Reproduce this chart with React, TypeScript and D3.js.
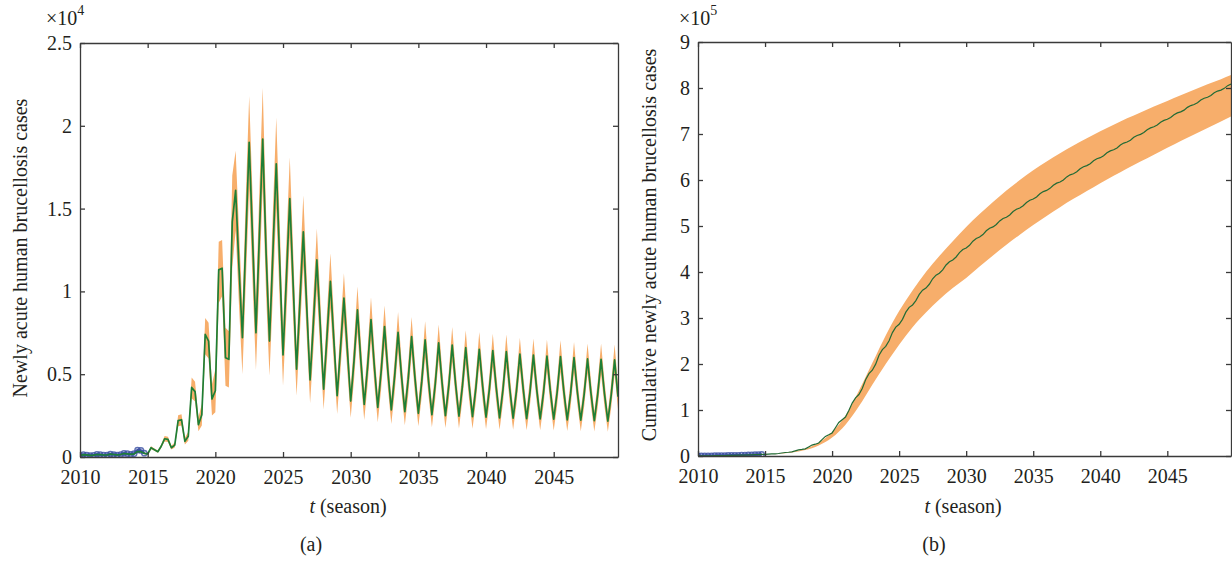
import React, { useEffect, useRef } from 'react';
import * as d3 from 'd3';

// time runs in seasons: 2010.00, 2010.25, ... 2049.75 (four per row)
const startYear = 2010;
const endYear = 2049.75;

// model mean of newly acute cases per season
const meanCases = [
  90, 140, 130, 100, 110, 150, 140, 120, 120, 170, 150, 130, 150, 210, 190, 160, 190, 330, 320, 220,
  180, 560, 440, 320, 650, 1100, 1060, 560, 720, 2200, 2250, 950, 1250, 4200, 3950, 1950,
  2550, 7400, 7000, 3500, 4000, 11300, 11400, 6000, 5900, 14200, 16100, 11400,
  7200, 13100, 19000, 13200, 7500, 13300, 19200, 12300, 7000, 12300, 17700, 11900,
  6160, 10800, 15600, 10400, 5300, 9400, 13600, 9100, 4650, 8200, 11900, 8000,
  4100, 7300, 10600, 7150, 3700, 6600, 9600, 6500, 3380, 5850, 8880, 5830,
  3180, 5450, 8300, 5450, 3000, 5150, 7870, 5160, 2840, 4900, 7530, 4940,
  2740, 4700, 7270, 4760, 2640, 4550, 7070, 4610, 2550, 4420, 6900, 4500,
  2500, 4320, 6760, 4410, 2460, 4230, 6600, 4330, 2440, 4170, 6500, 4270,
  2400, 4110, 6420, 4210, 2360, 4060, 6360, 4150, 2340, 3990, 6220, 4080,
  2320, 3950, 6160, 4040, 2300, 3910, 6100, 3990, 2280, 3880, 6060, 3950,
  2240, 3840, 6000, 3910, 2220, 3800, 5920, 3870, 2200, 3780, 5900, 3830,
  2170, 3750, 5860, 3640,
];

// lower edge of the uncertainty band
const lowerCases = [
  60, 100, 100, 70, 80, 110, 110, 90, 85, 125, 115, 95, 105, 155, 145, 120, 135, 250, 250, 165,
  140, 470, 370, 260, 540, 930, 900, 450, 580, 1850, 1900, 760, 980, 3550, 3350, 1550,
  1900, 6200, 5950, 2500, 2700, 9300, 9700, 4300, 4200, 11400, 13700, 9100,
  5000, 10500, 16150, 10560, 5250, 10600, 16300, 9800, 4900, 9800, 15000, 9500,
  4300, 8600, 13300, 8300, 3700, 7500, 11550, 7300, 3250, 6550, 10100, 6400,
  2870, 5850, 9000, 5700, 2600, 5300, 8150, 5200, 2370, 4700, 7550, 4650,
  2230, 4350, 7050, 4350, 2100, 4100, 6700, 4150, 2000, 3900, 6400, 3950,
  1920, 3750, 6200, 3800, 1850, 3650, 6000, 3700, 1790, 3550, 5850, 3600,
  1750, 3450, 5750, 3550, 1720, 3400, 5600, 3450, 1710, 3350, 5530, 3400,
  1680, 3300, 5450, 3350, 1650, 3250, 5400, 3300, 1640, 3200, 5300, 3250,
  1620, 3150, 5250, 3250, 1610, 3150, 5200, 3200, 1600, 3100, 5150, 3150,
  1570, 3050, 5100, 3150, 1550, 3050, 5050, 3100, 1540, 3000, 5000, 3050,
  1520, 3000, 5000, 2900,
];

// upper edge of the uncertainty band
const upperCases = [
  120, 180, 160, 130, 140, 190, 170, 150, 155, 215, 185, 165, 190, 265, 235, 200, 240, 410, 390, 280,
  230, 650, 520, 390, 760, 1270, 1220, 680, 880, 2520, 2580, 1160, 1520, 4800, 4550, 2400,
  3200, 8400, 8100, 4400, 5300, 13000, 13100, 7800, 7600, 17000, 18500, 13700,
  9000, 15700, 21800, 15800, 9400, 16000, 22300, 14800, 8750, 14800, 20500, 14300,
  7700, 13000, 18100, 12500, 6600, 11300, 15800, 10900, 5800, 9850, 13800, 9600,
  5100, 8750, 12300, 8600, 4600, 7900, 11100, 7800, 4200, 7000, 10300, 7000,
  3970, 6550, 9650, 6550, 3750, 6200, 9150, 6200, 3550, 5900, 8750, 5900,
  3420, 5650, 8450, 5700, 3300, 5450, 8200, 5550, 3200, 5300, 8000, 5400,
  3120, 5200, 7850, 5300, 3080, 5100, 7650, 5200, 3050, 5000, 7550, 5100,
  3000, 4950, 7450, 5050, 2950, 4850, 7400, 5000, 2930, 4800, 7200, 4900,
  2900, 4750, 7150, 4850, 2880, 4700, 7100, 4800, 2850, 4650, 7050, 4750,
  2800, 4600, 6950, 4700, 2780, 4550, 6850, 4650, 2750, 4550, 6850, 4600,
  2700, 4500, 6800, 4350,
];

// reported cases 2010-2014, per season
const observedCases = [80, 150, 120, 90, 100, 160, 140, 110, 120, 180, 150, 120, 150, 220, 200, 160, 200, 420, 400, 230];

// band of the cumulative panel, read per year
const cumYears = [
  2015, 2016, 2017, 2018, 2019, 2020, 2021, 2022, 2023, 2024, 2025, 2026, 2027, 2028, 2029, 2030, 2031, 2032,
  2033, 2034, 2035, 2036, 2037, 2038, 2039, 2040, 2041, 2042, 2043, 2044, 2045, 2046, 2047, 2048, 2049, 2049.75,
];
const cumLower = [
  3300, 4500, 7500, 13000, 23000, 40000, 68000, 108000, 155000, 200000, 242000, 280000, 312000, 340000, 365000,
  387000, 412000, 436000, 459000, 481000, 502000, 522000, 541000, 559000, 576000, 593000, 609000, 625000, 640000,
  655000, 670000, 685000, 699000, 713000, 727000, 738000,
];
const cumUpper = [
  3500, 5000, 9000, 16000, 29000, 52000, 88000, 142000, 202000, 262000, 315000, 360000, 400000, 435000, 467000,
  498000, 526000, 552000, 577000, 600000, 621000, 640000, 658000, 675000, 691000, 706000, 720000, 734000, 747000,
  760000, 772000, 784000, 796000, 808000, 819000, 828000,
];

const yearTicks = [2010, 2015, 2020, 2025, 2030, 2035, 2040, 2045];
const leftTicks = [0, 5000, 10000, 15000, 20000, 25000];
const rightTicks = [0, 100000, 200000, 300000, 400000, 500000, 600000, 700000, 800000, 900000];

const FONT = "'Liberation Serif', 'DejaVu Serif', serif";
const INK = '#231f20';
const AXIS = '#3a3a3a';
const ORANGE = '#f7ae6b';
const GREEN = '#1d7f36';
const BLUE = '#3a4fa3';

function frame(g: any, x: any, y: any, yTicks: number[], yFmt: (d: number) => string) {
  const [x0, x1] = x.range();
  const [y0, y1] = y.range();
  const style = (sel: any) => {
    sel.attr('font-family', null).attr('font-size', null);
    sel.select('.domain').attr('stroke', AXIS).attr('stroke-width', 1.3);
    sel.selectAll('.tick line').attr('stroke', AXIS).attr('stroke-width', 1.3);
    sel.selectAll('text').style('font-family', FONT).style('font-size', '20px').attr('fill', INK);
  };
  g.append('g').attr('transform', `translate(0,${y0})`)
    .call(d3.axisBottom(x).tickValues(yearTicks).tickFormat(d3.format('d')).tickSize(-5).tickSizeOuter(0).tickPadding(13))
    .call(style);
  g.append('g').attr('transform', `translate(0,${y1})`)
    .call(d3.axisTop(x).tickValues(yearTicks).tickFormat(() => '').tickSize(-5).tickSizeOuter(0))
    .call(style);
  g.append('g').attr('transform', `translate(${x0},0)`)
    .call(d3.axisLeft(y).tickValues(yTicks).tickFormat(yFmt).tickSize(-5).tickSizeOuter(0).tickPadding(8))
    .call(style);
  g.append('g').attr('transform', `translate(${x1},0)`)
    .call(d3.axisRight(y).tickValues(yTicks).tickFormat(() => '').tickSize(-5).tickSizeOuter(0))
    .call(style);
}

function labels(g: any, cx: number, title: string, titleX: number, titleY: number, tag: string, tagX: number, expX: number, exp: string) {
  const txt = (sel: any, size: number) => sel.style('font-family', FONT).style('font-size', `${size}px`).attr('fill', INK);
  const tx = g.append('text').attr('x', cx).attr('y', 513).attr('text-anchor', 'middle').call(txt, 20);
  tx.append('tspan').style('font-style', 'italic').text('t');
  tx.append('tspan').text(' (season)');
  g.append('text').attr('transform', `translate(${titleX},${titleY}) rotate(-90)`).attr('text-anchor', 'middle')
    .call(txt, 20).text(title);
  g.append('text').attr('x', tagX).attr('y', 551).attr('text-anchor', 'middle').call(txt, 20).text(tag);
  const e = g.append('text').attr('x', expX).attr('y', 25).call(txt, 20);
  e.append('tspan').text('×10');
  e.append('tspan').style('font-size', '14px').attr('dy', -10).text(exp);
}

export default function App() {
  const ref = useRef<SVGSVGElement>(null);

  useEffect(() => {
    const svg = d3.select(ref.current);
    svg.selectAll('*').remove();

    const seasons = meanCases.map((_, i) => startYear + i / 4);
    const obsT = observedCases.map((_, i) => startYear + i / 4);
    const cumMean = Array.from(d3.cumsum(meanCases));
    const cumObs = Array.from(d3.cumsum(observedCases));

    // ---- (a) newly acute cases ----
    const xa = d3.scaleLinear().domain([startYear, endYear]).range([80, 618]);
    const ya = d3.scaleLinear().domain([0, 25000]).range([457, 43]);
    const a = svg.append('g');
    a.append('clipPath').attr('id', 'clipA').append('rect')
      .attr('x', 80).attr('y', 43).attr('width', 538).attr('height', 414);
    const pa = a.append('g').attr('clip-path', 'url(#clipA)');

    pa.append('path')
      .datum(seasons.map((t, i) => ({ t, lo: lowerCases[i], hi: upperCases[i] })))
      .attr('fill', ORANGE)
      .attr('d', d3.area<any>().x(d => xa(d.t)).y0(d => ya(d.lo)).y1(d => ya(d.hi)));

    pa.append('path')
      .datum(obsT.map((t, i) => ({ t, v: observedCases[i] })))
      .attr('fill', 'none').attr('stroke', BLUE).attr('stroke-width', 2.5)
      .attr('d', d3.line<any>().x(d => xa(d.t)).y(d => ya(d.v)));
    pa.selectAll('circle.obs').data(obsT.map((t, i) => ({ t, v: observedCases[i] }))).join('circle')
      .attr('cx', d => xa(d.t)).attr('cy', d => ya(d.v)).attr('r', 2.6)
      .attr('fill', 'none').attr('stroke', BLUE).attr('stroke-width', 1.5).attr('stroke-opacity', 0.8);

    pa.append('path')
      .datum(seasons.map((t, i) => ({ t, v: meanCases[i] })))
      .attr('fill', 'none').attr('stroke', GREEN).attr('stroke-width', 1.7).attr('stroke-linejoin', 'round')
      .attr('d', d3.line<any>().x(d => xa(d.t)).y(d => ya(d.v)));

    frame(a, xa, ya, leftTicks, d => String(d / 10000));
    labels(a, 348, 'Newly acute human brucellosis cases', 27, 248, '(a)', 311, 46, '4');

    // ---- (b) cumulative cases ----
    const xb = d3.scaleLinear().domain([startYear, endYear]).range([698, 1231]);
    const yb = d3.scaleLinear().domain([0, 900000]).range([456, 42]);
    const b = svg.append('g');
    b.append('clipPath').attr('id', 'clipB').append('rect')
      .attr('x', 698).attr('y', 42).attr('width', 533).attr('height', 414);
    const pb = b.append('g').attr('clip-path', 'url(#clipB)');

    pb.append('path')
      .datum(cumYears.map((t, i) => ({ t, lo: cumLower[i], hi: cumUpper[i] })))
      .attr('fill', ORANGE)
      .attr('d', d3.area<any>().curve(d3.curveMonotoneX).x(d => xb(d.t)).y0(d => yb(d.lo)).y1(d => yb(d.hi)));

    pb.append('path')
      .datum(obsT.map((t, i) => ({ t, v: cumObs[i] })))
      .attr('fill', 'none').attr('stroke', BLUE).attr('stroke-width', 2.5)
      .attr('d', d3.line<any>().x(d => xb(d.t)).y(d => yb(d.v)));
    pb.selectAll('circle.obs').data(obsT.map((t, i) => ({ t, v: cumObs[i] }))).join('circle')
      .attr('cx', d => xb(d.t)).attr('cy', d => yb(d.v)).attr('r', 2.6)
      .attr('fill', 'none').attr('stroke', BLUE).attr('stroke-width', 1.5).attr('stroke-opacity', 0.8);

    pb.append('path')
      .datum(seasons.map((t, i) => ({ t, v: cumMean[i] })))
      .attr('fill', 'none').attr('stroke', '#226b35').attr('stroke-width', 1.2)
      .attr('d', d3.line<any>().x(d => xb(d.t)).y(d => yb(d.v)));

    frame(b, xb, yb, rightTicks, d => String(d / 100000));
    labels(b, 963, 'Cumulative newly acute human brucellosis cases', 656, 245, '(b)', 934, 679, '5');
  }, []);

  return (
    <div style={{ position: 'absolute', left: 0, top: 0, background: '#fff' }}>
      <svg ref={ref} width={1232} height={561} style={{ display: 'block' }} />
    </div>
  );
}
